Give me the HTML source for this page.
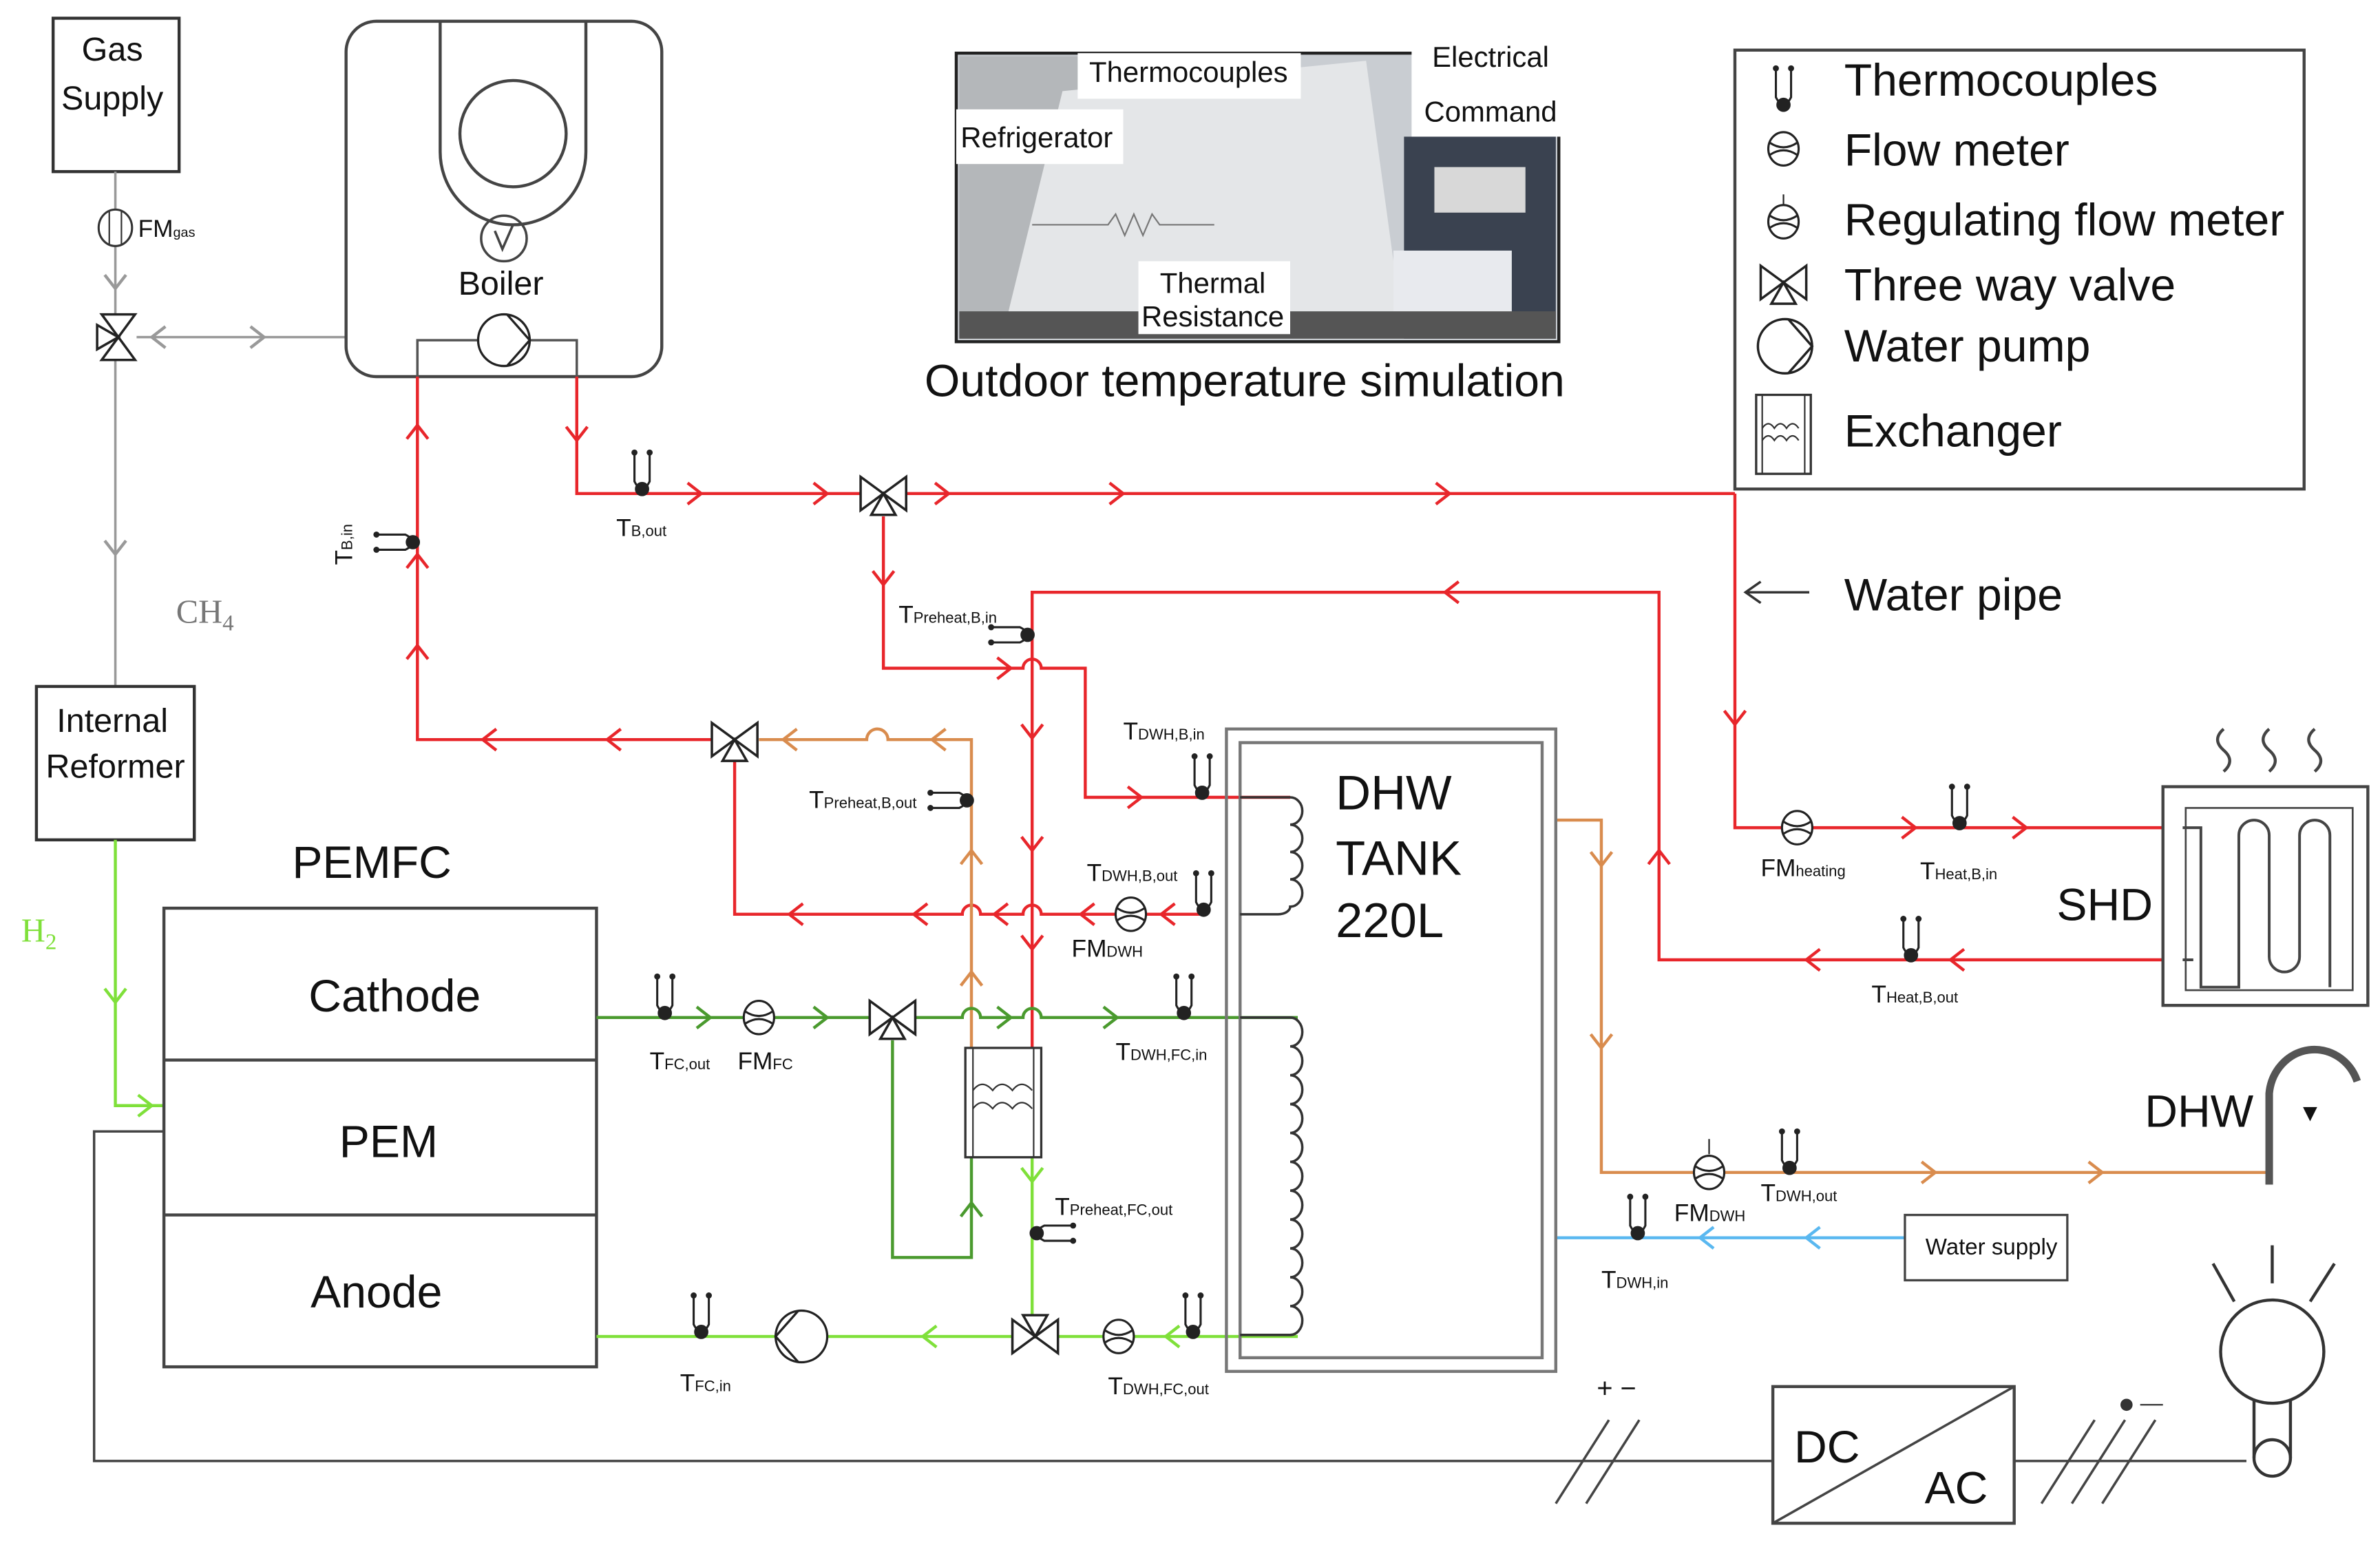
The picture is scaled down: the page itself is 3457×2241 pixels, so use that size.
<!DOCTYPE html>
<html><head><meta charset="utf-8"><style>
html,body{margin:0;padding:0;background:#fff}
svg{display:block}
text{font-family:"Liberation Sans",Arial,sans-serif;fill:#111}
</style></head><body>
<svg width="3457" height="2241" viewBox="0 0 1568 1016" preserveAspectRatio="none" xmlns="http://www.w3.org/2000/svg">
<defs>
<g id="ar"><polyline points="-9,-7 0,0 -9,7" fill="none" stroke-width="2"/></g>
<g id="valve" stroke="#222" stroke-width="1.6" fill="#fff"><path d="M-15,-11 L0,0 L-15,11 Z M15,-11 L0,0 L15,11 Z M0,0 L-8,14 L8,14 Z"/></g>
<g id="tc" stroke="#222" stroke-width="1.4" fill="none"><path d="M-5,-26 L-5,-8 Q0,2 5,-8 L5,-26"/><circle cx="0" cy="-3" r="4" fill="#222"/><circle cx="-5" cy="-27" r="1.3" fill="#222"/><circle cx="5" cy="-27" r="1.3" fill="#222"/></g>
<g id="fm" stroke="#222" stroke-width="1.4" fill="#fff"><ellipse cx="0" cy="0" rx="10" ry="11"/><path d="M-9,-4 Q0,2 9,-4 M-9,4 Q0,-2 9,4" fill="none"/></g>
<g id="pump" stroke="#222" stroke-width="1.5" fill="#fff"><circle r="17"/><polyline points="2,-17 17,0 2,17" fill="none"/></g>
</defs>

<!-- Gas supply -->
<rect x="35" y="12" width="83" height="101" fill="#fff" stroke="#333" stroke-width="2"/>
<text x="74" y="40" font-size="22" text-anchor="middle">Gas</text>
<text x="74" y="72" font-size="22" text-anchor="middle">Supply</text>
<g stroke="#999" stroke-width="1.6" fill="none">
<line x1="76" y1="113" x2="76" y2="452"/>
<line x1="90" y1="222" x2="228" y2="222"/>
</g>
<use href="#ar" transform="translate(76,190) rotate(90)" stroke="#999"/>
<use href="#ar" transform="translate(76,365) rotate(90)" stroke="#999"/>
<use href="#ar" transform="translate(174,222)" stroke="#999"/>
<use href="#ar" transform="translate(100,222) rotate(180)" stroke="#999"/>
<ellipse cx="76" cy="150" rx="11" ry="12" fill="#fff" stroke="#333" stroke-width="1.4"/>
<line x1="72" y1="139" x2="72" y2="161" stroke="#333"/><line x1="80" y1="139" x2="80" y2="161" stroke="#333"/>
<text x="91" y="156" font-size="16">FM<tspan font-size="9">gas</tspan></text>
<use href="#valve" transform="translate(78,222) rotate(90)"/>
<text x="116" y="410" font-size="22" style="fill:#777;font-family:'Liberation Serif',serif">CH<tspan font-size="15" dy="5">4</tspan></text>

<!-- Boiler -->
<rect x="228" y="14" width="208" height="234" rx="20" fill="#fff" stroke="#444" stroke-width="2"/>
<path d="M290,14 L290,100 A48,48 0 0 0 386,100 L386,14" fill="none" stroke="#444" stroke-width="2"/>
<circle cx="338" cy="88" r="35" fill="none" stroke="#444" stroke-width="2"/>
<circle cx="332" cy="157" r="15" fill="none" stroke="#444" stroke-width="1.6"/>
<path d="M326,152 L331,164 L338,148" fill="none" stroke="#444" stroke-width="1.6"/>
<text x="330" y="194" font-size="22" text-anchor="middle">Boiler</text>
<polyline points="275,248 275,224 380,224 380,248" fill="none" stroke="#555" stroke-width="1.6"/>
<use href="#pump" transform="translate(332,224)"/>

<!-- Photo -->
<rect x="630" y="35" width="397" height="190" fill="#c9cdd2" stroke="#222" stroke-width="2"/>
<rect x="632" y="37" width="80" height="186" fill="#b4b7ba"/>
<polygon points="700,60 900,40 925,223 660,223" fill="#e4e6e8"/>
<rect x="925" y="90" width="100" height="133" fill="#3a4250"/>
<rect x="945" y="110" width="60" height="30" fill="#d8d8d8"/>
<rect x="918" y="165" width="78" height="45" fill="#e8eaee"/>
<rect x="632" y="205" width="393" height="18" fill="#555"/>
<path d="M680,148 H730 L735,141 L741,155 L747,141 L753,155 L759,141 L764,148 H800" fill="none" stroke="#777"/>
<rect x="710" y="35" width="147" height="30" fill="#fff"/><text x="783" y="54" font-size="19" text-anchor="middle">Thermocouples</text>
<rect x="630" y="72" width="110" height="36" fill="#fff"/><text x="683" y="97" font-size="19" text-anchor="middle">Refrigerator</text>
<rect x="930" y="25" width="100" height="65" fill="#fff"/>
<text x="982" y="44" font-size="19" text-anchor="middle">Electrical</text>
<text x="982" y="80" font-size="19" text-anchor="middle">Command</text>
<rect x="750" y="172" width="100" height="48" fill="#fff"/>
<text x="799" y="193" font-size="19" text-anchor="middle">Thermal</text>
<text x="799" y="215" font-size="19" text-anchor="middle">Resistance</text>
<text x="820" y="261" font-size="30" text-anchor="middle">Outdoor temperature simulation</text>

<!-- Legend -->
<rect x="1143" y="33" width="375" height="289" fill="#fff" stroke="#444" stroke-width="2"/>
<use href="#tc" transform="translate(1175,72)"/>
<use href="#fm" transform="translate(1175,98)"/>
<line x1="1175" y1="128" x2="1175" y2="135" stroke="#222"/>
<use href="#fm" transform="translate(1175,146)"/>
<use href="#valve" transform="translate(1175,186)"/>
<use href="#pump" transform="translate(1176,228) scale(1.05)"/>
<rect x="1157" y="260" width="36" height="52" fill="#fff" stroke="#333" stroke-width="1.5"/>
<line x1="1161" y1="260" x2="1161" y2="312" stroke="#333"/><line x1="1189" y1="260" x2="1189" y2="312" stroke="#333"/>
<path d="M1161,282 q4,-6 8,0 q4,-6 8,0 q4,-6 8,0 M1161,290 q4,-6 8,0 q4,-6 8,0 q4,-6 8,0" fill="none" stroke="#333"/>
<g font-size="30"><text x="1215" y="63">Thermocouples</text><text x="1215" y="109">Flow meter</text><text x="1215" y="155">Regulating flow meter</text><text x="1215" y="198">Three way valve</text><text x="1215" y="238">Water pump</text><text x="1215" y="294">Exchanger</text>
<text x="1215" y="402">Water pipe</text></g>
<line x1="1150" y1="390" x2="1192" y2="390" stroke="#333" stroke-width="1.6"/>
<polyline points="1160,383 1150,390 1160,397" fill="none" stroke="#333" stroke-width="1.6"/>

<!-- Internal reformer -->
<rect x="24" y="452" width="104" height="101" fill="#fff" stroke="#333" stroke-width="2"/>
<text x="74" y="482" font-size="22" text-anchor="middle">Internal</text>
<text x="76" y="512" font-size="22" text-anchor="middle">Reformer</text>
<text x="14" y="620" font-size="22" style="fill:#7fe03a;font-family:'Liberation Serif',serif">H<tspan font-size="15" dy="5">2</tspan></text>
<polyline points="76,553 76,728 108,728" fill="none" stroke="#7fe03a" stroke-width="2"/>
<use href="#ar" transform="translate(76,660) rotate(90)" stroke="#7fe03a"/>
<use href="#ar" transform="translate(100,728)" stroke="#7fe03a"/>

<!-- PEMFC -->
<text x="245" y="578" font-size="30" text-anchor="middle">PEMFC</text>
<rect x="108" y="598" width="285" height="302" fill="#fff" stroke="#444" stroke-width="2"/>
<line x1="108" y1="698" x2="393" y2="698" stroke="#444" stroke-width="2"/>
<line x1="108" y1="800" x2="393" y2="800" stroke="#444" stroke-width="2"/>
<g font-size="30" text-anchor="middle"><text x="260" y="666">Cathode</text><text x="256" y="762">PEM</text><text x="248" y="861">Anode</text></g>

<!-- Red circuit -->
<g fill="none" stroke="#e8262b" stroke-width="2">
<polyline points="275,248 275,487 470,487"/>
<polyline points="380,248 380,325 567,325"/>
<line x1="597" y1="325" x2="1143" y2="325"/>
<polyline points="1143,325 1143,545 1425,545"/>
<path d="M582,340 V440 H674 a6,6 0 0 1 12,0 H715 V525 H850"/>
<polyline points="1425,632 1093,632 1093,390 680,390 680,690"/>
<path d="M793,602 H686 a6,6 0 0 0 -12,0 H646 a6,6 0 0 0 -12,0 H484 V500"/>
</g>
<g stroke="#e8262b">
<use href="#ar" transform="translate(275,280) rotate(-90)"/><use href="#ar" transform="translate(275,365) rotate(-90)"/><use href="#ar" transform="translate(275,425) rotate(-90)"/>
<use href="#ar" transform="translate(318,487) rotate(180)"/><use href="#ar" transform="translate(400,487) rotate(180)"/>
<use href="#ar" transform="translate(380,290) rotate(90)"/>
<use href="#ar" transform="translate(462,325)"/><use href="#ar" transform="translate(545,325)"/><use href="#ar" transform="translate(625,325)"/><use href="#ar" transform="translate(740,325)"/><use href="#ar" transform="translate(955,325)"/>
<use href="#ar" transform="translate(1143,477) rotate(90)"/>
<use href="#ar" transform="translate(582,385) rotate(90)"/><use href="#ar" transform="translate(666,440)"/>
<use href="#ar" transform="translate(752,525)"/>
<use href="#ar" transform="translate(680,486) rotate(90)"/><use href="#ar" transform="translate(680,560) rotate(90)"/><use href="#ar" transform="translate(680,625) rotate(90)"/>
<use href="#ar" transform="translate(952,390) rotate(180)"/>
<use href="#ar" transform="translate(1093,560) rotate(-90)"/>
<use href="#ar" transform="translate(1335,545)"/><use href="#ar" transform="translate(1262,545)"/>
<use href="#ar" transform="translate(1285,632) rotate(180)"/><use href="#ar" transform="translate(1190,632) rotate(180)"/>
<use href="#ar" transform="translate(520,602) rotate(180)"/><use href="#ar" transform="translate(602,602) rotate(180)"/><use href="#ar" transform="translate(655,602) rotate(180)"/><use href="#ar" transform="translate(712,602) rotate(180)"/><use href="#ar" transform="translate(765,602) rotate(180)"/>
</g>
<use href="#valve" transform="translate(582,325)"/>
<use href="#valve" transform="translate(484,487)"/>

<!-- Orange preheat -->
<g fill="none" stroke="#d98c4e" stroke-width="2">
<path d="M500,487 H571 a7,7 0 0 1 14,0 H640 V690"/>
<polyline points="1025,540 1055,540 1055,772 1495,772"/>
</g>
<g stroke="#d98c4e">
<use href="#ar" transform="translate(516,487) rotate(180)"/><use href="#ar" transform="translate(614,487) rotate(180)"/>
<use href="#ar" transform="translate(640,560) rotate(-90)"/><use href="#ar" transform="translate(640,640) rotate(-90)"/>
<use href="#ar" transform="translate(1055,570) rotate(90)"/><use href="#ar" transform="translate(1055,690) rotate(90)"/>
<use href="#ar" transform="translate(1275,772)"/><use href="#ar" transform="translate(1385,772)"/>
</g>

<!-- Dark green -->
<g fill="none" stroke="#4a9a2e" stroke-width="2">
<polyline points="393,670 573,670"/>
<path d="M603,670 H634 a6,6 0 0 1 12,0 H674 a6,6 0 0 1 12,0 H855"/>
<polyline points="588,685 588,828 640,828 640,762"/>
</g>
<g stroke="#4a9a2e">
<use href="#ar" transform="translate(468,670)"/><use href="#ar" transform="translate(545,670)"/><use href="#ar" transform="translate(666,670)"/><use href="#ar" transform="translate(736,670)"/>
<use href="#ar" transform="translate(640,792) rotate(-90)"/>
</g>
<use href="#valve" transform="translate(588,670)"/>

<!-- Light green -->
<g fill="none" stroke="#7fe03a" stroke-width="2">
<polyline points="393,880 667,880"/><polyline points="697,880 855,880"/>
<polyline points="680,762 680,866"/>
</g>
<g stroke="#7fe03a">
<use href="#ar" transform="translate(608,880) rotate(180)"/><use href="#ar" transform="translate(768,880) rotate(180)"/>
<use href="#ar" transform="translate(680,778) rotate(90)"/>
</g>
<use href="#valve" transform="translate(682,880) rotate(180)"/>
<use href="#pump" transform="translate(528,880) rotate(180)"/>

<!-- Exchanger -->
<rect x="636" y="690" width="50" height="72" fill="#fff" stroke="#333" stroke-width="1.5"/>
<line x1="641" y1="690" x2="641" y2="762" stroke="#333"/><line x1="681" y1="690" x2="681" y2="762" stroke="#333"/>
<path d="M641,718 q6,-8 13,0 q6,-8 13,0 q6,-8 13,0 M641,730 q6,-8 13,0 q6,-8 13,0 q6,-8 13,0" fill="none" stroke="#333"/>

<!-- Blue -->
<line x1="1025" y1="815" x2="1255" y2="815" stroke="#5ab8f0" stroke-width="2"/>
<use href="#ar" transform="translate(1120,815) rotate(180)" stroke="#5ab8f0"/>
<use href="#ar" transform="translate(1190,815) rotate(180)" stroke="#5ab8f0"/>
<rect x="1255" y="800" width="107" height="43" fill="#fff" stroke="#444" stroke-width="1.5"/>
<text x="1312" y="826" font-size="15" text-anchor="middle">Water supply</text>

<!-- DHW tank -->
<rect x="808" y="480" width="217" height="423" fill="none" stroke="#777" stroke-width="2"/>
<rect x="817" y="489" width="199" height="405" fill="none" stroke="#777" stroke-width="2"/>
<g font-size="32"><text x="880" y="533">DHW</text><text x="880" y="576">TANK</text><text x="880" y="617">220L</text></g>
<path d="M817,525 H850 a8,9 0 0 1 0,18 a8,9 0 0 1 0,18 a8,9 0 0 1 0,18 a8,9 0 0 1 0,18 a8,5 0 0 1 -8,5 H817" fill="none" stroke="#333" stroke-width="1.6"/>
<path d="M817,670 H850 a8,9.5 0 0 1 0,19 a8,9.5 0 0 1 0,19 a8,9.5 0 0 1 0,19 a8,9.5 0 0 1 0,19 a8,9.5 0 0 1 0,19 a8,9.5 0 0 1 0,19 a8,9.5 0 0 1 0,19 a8,9.5 0 0 1 0,19 a8,9.5 0 0 1 0,19 a8,9.5 0 0 1 0,19 a8,9.5 0 0 1 0,19 H817" fill="none" stroke="#333" stroke-width="1.6"/>

<!-- SHD -->
<rect x="1425" y="518" width="135" height="144" fill="#fff" stroke="#444" stroke-width="2"/>
<path d="M1438,545 H1450 V650 H1475 V550 a10,10 0 0 1 20,0 V630 a10,10 0 0 0 20,0 V550 a10,10 0 0 1 20,0 V650 M1438,632 H1445" fill="none" stroke="#444" stroke-width="1.8"/>
<rect x="1440" y="532" width="110" height="120" fill="none" stroke="#444" stroke-width="1.2"/>
<text x="1355" y="606" font-size="30">SHD</text>
<path d="M1465,480 q-8,7 0,14 q8,7 0,14 M1495,480 q-8,7 0,14 q8,7 0,14 M1525,480 q-8,7 0,14 q8,7 0,14" fill="none" stroke="#444" stroke-width="2"/>

<!-- DHW faucet -->
<path d="M1495,780 V720 a30,32 0 0 1 58,-8" fill="none" stroke="#555" stroke-width="5"/>
<text x="1413" y="742" font-size="30">DHW</text>
<text x="1514" y="738" font-size="16">▼</text>

<!-- Sensors -->
<use href="#tc" transform="translate(423,325)"/><text x="406" y="353" font-size="16">T<tspan font-size="10">B,out</tspan></text>
<use href="#tc" transform="translate(275,357) rotate(-90)"/><text x="232" y="372" font-size="16" transform="rotate(-90 232 372)">T<tspan font-size="10">B,in</tspan></text>
<use href="#tc" transform="translate(680,418) rotate(-90)"/><text x="592" y="410" font-size="16">T<tspan font-size="10">Preheat,B,in</tspan></text>
<use href="#tc" transform="translate(640,527) rotate(-90)"/><text x="533" y="532" font-size="16">T<tspan font-size="10">Preheat,B,out</tspan></text>
<use href="#tc" transform="translate(792,525)"/><text x="740" y="487" font-size="16">T<tspan font-size="10">DWH,B,in</tspan></text>
<use href="#tc" transform="translate(793,602)"/><text x="716" y="580" font-size="16">T<tspan font-size="10">DWH,B,out</tspan></text>
<use href="#fm" transform="translate(745,602)"/><text x="706" y="630" font-size="16">FM<tspan font-size="10">DWH</tspan></text>
<use href="#tc" transform="translate(438,670)"/><text x="428" y="704" font-size="16">T<tspan font-size="10">FC,out</tspan></text>
<use href="#fm" transform="translate(500,670)"/><text x="486" y="704" font-size="16">FM<tspan font-size="10">FC</tspan></text>
<use href="#tc" transform="translate(780,670)"/><text x="735" y="698" font-size="16">T<tspan font-size="10">DWH,FC,in</tspan></text>
<use href="#tc" transform="translate(680,812) rotate(90)"/><text x="695" y="800" font-size="16">T<tspan font-size="10">Preheat,FC,out</tspan></text>
<use href="#tc" transform="translate(462,880)"/><text x="448" y="916" font-size="16">T<tspan font-size="10">FC,in</tspan></text>
<use href="#fm" transform="translate(737,880)"/>
<use href="#tc" transform="translate(786,880)"/><text x="730" y="918" font-size="16">T<tspan font-size="10">DWH,FC,out</tspan></text>
<use href="#fm" transform="translate(1184,545)"/><text x="1160" y="577" font-size="16">FM<tspan font-size="10">heating</tspan></text>
<use href="#tc" transform="translate(1291,545)"/><text x="1265" y="579" font-size="16">T<tspan font-size="10">Heat,B,in</tspan></text>
<use href="#tc" transform="translate(1259,632)"/><text x="1233" y="660" font-size="16">T<tspan font-size="10">Heat,B,out</tspan></text>
<line x1="1126" y1="750" x2="1126" y2="760" stroke="#222"/>
<use href="#fm" transform="translate(1126,772)"/><text x="1103" y="804" font-size="16">FM<tspan font-size="10">DWH</tspan></text>
<use href="#tc" transform="translate(1179,772)"/><text x="1160" y="791" font-size="16">T<tspan font-size="10">DWH,out</tspan></text>
<use href="#tc" transform="translate(1079,815)"/><text x="1055" y="848" font-size="16">T<tspan font-size="10">DWH,in</tspan></text>

<!-- Electrical -->
<polyline points="108,745 62,745 62,962 1168,962" fill="none" stroke="#444" stroke-width="1.6"/>
<line x1="1327" y1="962" x2="1480" y2="962" stroke="#444" stroke-width="1.6"/>
<g stroke="#444" stroke-width="1.6"><line x1="1025" y1="990" x2="1060" y2="935"/><line x1="1045" y1="990" x2="1080" y2="935"/>
<line x1="1345" y1="990" x2="1380" y2="935"/><line x1="1365" y1="990" x2="1400" y2="935"/><line x1="1385" y1="990" x2="1420" y2="935"/></g>
<text x="1052" y="920" font-size="18">+ −</text>
<circle cx="1401" cy="925" r="4" fill="#333"/><line x1="1410" y1="925" x2="1425" y2="925" stroke="#333"/>
<rect x="1168" y="913" width="159" height="90" fill="#fff" stroke="#444" stroke-width="2"/>
<line x1="1168" y1="1003" x2="1327" y2="913" stroke="#444" stroke-width="1.6"/>
<text x="1182" y="963" font-size="30">DC</text><text x="1268" y="990" font-size="30">AC</text>
<circle cx="1497" cy="890" r="34" fill="#fff" stroke="#333" stroke-width="2"/>
<circle cx="1497" cy="960" r="12" fill="#fff" stroke="#333" stroke-width="2"/>
<line x1="1485" y1="922" x2="1485" y2="960" stroke="#333" stroke-width="2"/><line x1="1509" y1="922" x2="1509" y2="960" stroke="#333" stroke-width="2"/>
<g stroke="#333" stroke-width="2"><line x1="1497" y1="820" x2="1497" y2="845"/><line x1="1458" y1="832" x2="1472" y2="857"/><line x1="1538" y1="832" x2="1522" y2="857"/></g>
</svg>
</body></html>
